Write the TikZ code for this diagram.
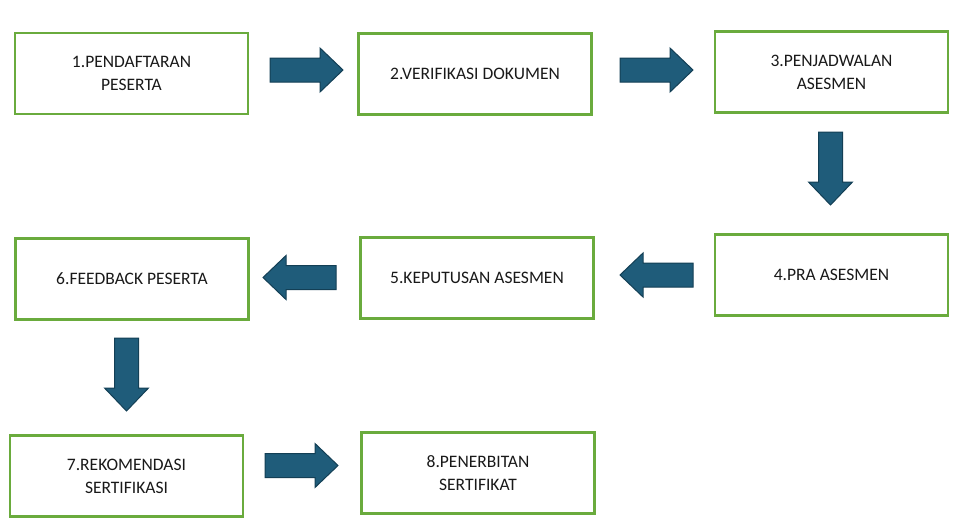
\documentclass[tikz,border=0pt]{standalone}
\usepackage{fontspec}
\setmainfont{Carlito}
\definecolor{gbord}{HTML}{6AAB3D}
\definecolor{afill}{HTML}{1F5C7A}
\definecolor{aline}{HTML}{133F55}
\tikzset{
  stepbox/.style={draw=gbord,line width=2.5pt,fill=white,minimum width=233pt,minimum height=81pt,align=center,font=\fontsize{17.5}{23}\selectfont,text=black!90,inner sep=2pt},
  blockarrow/.pic={\draw[fill=afill,draw=aline,line width=1pt] (0,-12)--(50,-12)--(50,-22)--(73,0)--(50,22)--(50,12)--(0,12)--cycle;}
}
\begin{document}
\begin{tikzpicture}[x=1pt,y=-1pt]
\useasboundingbox[fill=white] (0,0) rectangle (962,528);
\node[stepbox] (b1) at (131.5,73.5) {1.PENDAFTARAN\\PESERTA};
\node[stepbox] (b2) at (475,74) {2.VERIFIKASI DOKUMEN};
\node[stepbox] (b3) at (831.5,72) {3.PENJADWALAN\\ASESMEN};
\node[stepbox] (b4) at (831.5,275) {4.PRA ASESMEN};
\node[stepbox] (b5) at (477,278) {5.KEPUTUSAN ASESMEN};
\node[stepbox] (b6) at (132,279) {6.FEEDBACK PESERTA};
\node[stepbox] (b7) at (126.5,476) {7.REKOMENDASI\\SERTIFIKASI};
\node[stepbox] (b8) at (478,473) {8.PENERBITAN\\SERTIFIKAT};
\pic at (270,70) {blockarrow};
\pic at (620,70) {blockarrow};
\pic[rotate=-90] at (830.5,132) {blockarrow};
\pic[rotate=180] at (693,275) {blockarrow};
\pic[rotate=180] at (336,277.5) {blockarrow};
\pic[rotate=-90] at (126.5,338) {blockarrow};
\pic at (265,465.5) {blockarrow};
\end{tikzpicture}
\end{document}
